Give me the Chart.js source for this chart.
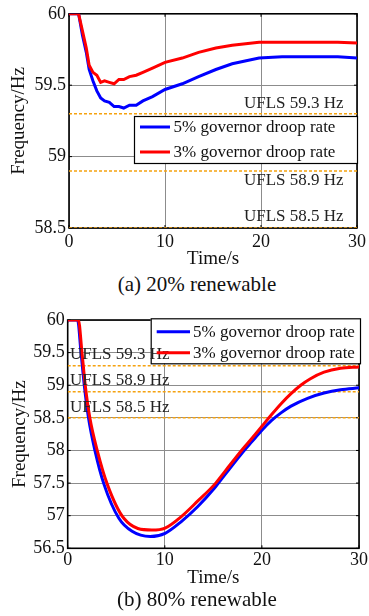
<!DOCTYPE html>
<html>
<head>
<meta charset="utf-8">
<script src="https://cdn.jsdelivr.net/npm/chart.js@4/dist/chart.umd.min.js"></script>
<style>
  html, body { margin: 0; padding: 0; background: #fff; }
  body { width: 369px; height: 616px; position: relative; overflow: hidden; }
  canvas { position: absolute; left: 0; }
  #c1 { top: 0; }
  #c2 { top: 300px; }
  .caption { position: absolute; left: 0; width: 394px; text-align: center;
             font-family: 'Liberation Serif', 'Times New Roman', serif; font-size: 21px;
             line-height: 21px; color: #111; white-space: nowrap; }
</style>
</head>
<body>
<canvas id="c1" width="369" height="270"></canvas>
<canvas id="c2" width="369" height="290"></canvas>
<div class="caption" style="top:274px">(a) 20% renewable</div>
<div class="caption" style="top:589px">(b) 80% renewable</div>
<script>
// ---- (a) 20% renewable ----
const timeA = [0, 1.0, 1.4, 1.8, 2.1, 2.5, 2.9, 3.3, 3.7, 4.2, 4.7, 5.2, 5.7, 6.3, 7.0, 7.7, 8.7, 10, 11.8, 13.5, 15.3, 17, 19.8, 22.2, 25, 28, 30];
const droop5A = [60, 60, 59.85, 59.73, 59.61, 59.53, 59.46, 59.41, 59.39, 59.38, 59.35, 59.35, 59.34, 59.36, 59.36, 59.39, 59.42, 59.47, 59.51, 59.56, 59.61, 59.65, 59.69, 59.70, 59.70, 59.70, 59.69];
const droop3A = [60, 60, 59.88, 59.76, 59.64, 59.59, 59.57, 59.52, 59.53, 59.52, 59.51, 59.54, 59.54, 59.56, 59.57, 59.59, 59.62, 59.66, 59.69, 59.73, 59.76, 59.78, 59.80, 59.80, 59.80, 59.80, 59.795];

// ---- (b) 80% renewable ----
const time5B = [0, 1.02, 1.36, 1.70, 2.14, 2.82, 3.74, 5.27, 6.63, 8.5, 10.03, 11.7, 13.4, 15.1, 16.2, 17.9, 19, 20, 21, 22, 23, 24.7, 26.4, 28.1, 30];
const droop5B = [60, 60, 59.52, 59.01, 58.50, 57.99, 57.48, 56.96, 56.76, 56.68, 56.73, 56.91, 57.14, 57.42, 57.63, 57.95, 58.14, 58.31, 58.46, 58.58, 58.68, 58.80, 58.88, 58.93, 58.96];
const time3B = [0, 1.1, 1.46, 1.8, 2.28, 3.06, 4.08, 5.78, 8.67, 10.03, 11.73, 13.43, 15.13, 16.2, 17.9, 19, 20, 21, 22, 23, 24, 25, 26.4, 28.1, 30];
const droop3B = [60, 60, 59.52, 59.01, 58.50, 57.99, 57.48, 56.96, 56.78, 56.81, 56.99, 57.23, 57.48, 57.68, 58.00, 58.19, 58.37, 58.55, 58.72, 58.87, 59.00, 59.10, 59.20, 59.26, 59.28];

// under-frequency load shedding thresholds (Hz)
const uflsLevels = [59.3, 58.9, 58.5];

const seriesNames = ['5% governor droop rate', '3% governor droop rate'];
const timeTicks = [0, 10, 20, 30];
const freqTicksA = [58.5, 59, 59.5, 60];
const freqTicksB = [56.5, 57, 57.5, 58, 58.5, 59, 59.5, 60];

const FONT = "'Liberation Serif', 'Times New Roman', serif";
const BLUE = '#0000ff', RED = '#ff0000', ORANGE = '#f5a20f';

const pts = (xs, ys) => xs.map((x, i) => ({ x, y: ys[i] }));

// axes box with inward tick marks, drawn beneath the data
const frameBox = {
  id: 'frameBox',
  beforeDatasetsDraw(chart) {
    const { ctx, chartArea: a, scales: { x, y } } = chart;
    ctx.save();
    ctx.strokeStyle = '#000';
    ctx.lineWidth = 1;
    ctx.beginPath();
    x.ticks.forEach(t => {
      const px = x.getPixelForValue(t.value);
      ctx.moveTo(px, a.bottom); ctx.lineTo(px, a.bottom - 3);
      ctx.moveTo(px, a.top); ctx.lineTo(px, a.top + 3);
    });
    y.ticks.forEach(t => {
      const py = y.getPixelForValue(t.value);
      ctx.moveTo(a.left, py); ctx.lineTo(a.left + 3, py);
      ctx.moveTo(a.right, py); ctx.lineTo(a.right - 3, py);
    });
    ctx.stroke();
    ctx.lineWidth = 1.6;
    ctx.strokeRect(a.left, a.top, a.right - a.left, a.bottom - a.top);
    ctx.restore();
  }
};

// boxed legend and threshold labels inside the plot
const overlay = {
  id: 'overlay',
  afterDatasetsDraw(chart, args, o) {
    const { ctx, scales: { y } } = chart;
    ctx.save();
    // legend frame
    ctx.fillStyle = '#fff';
    ctx.fillRect(o.box[0], o.box[1], o.box[2], o.box[3]);
    ctx.strokeStyle = '#000';
    ctx.lineWidth = 1.2;
    ctx.strokeRect(o.box[0] + 0.5, o.box[1] + 0.5, o.box[2], o.box[3]);
    // threshold labels
    ctx.font = '17px ' + FONT;
    ctx.fillStyle = '#222';
    ctx.textAlign = 'left';
    ctx.textBaseline = 'alphabetic';
    uflsLevels.forEach((v, i) => {
      ctx.fillText('UFLS ' + v + ' Hz', o.labelX, y.getPixelForValue(v) + o.labelDy[i]);
    });
    // legend entries
    ctx.textBaseline = 'middle';
    ctx.lineWidth = 3;
    const entries = [{ c: BLUE, t: seriesNames[0] }, { c: RED, t: seriesNames[1] }];
    entries.forEach((e, i) => {
      const ly = o.box[1] + o.rows[i];
      ctx.strokeStyle = e.c;
      ctx.beginPath();
      ctx.moveTo(o.lineX[0], ly); ctx.lineTo(o.lineX[1], ly);
      ctx.stroke();
      ctx.fillStyle = '#111';
      ctx.fillText(e.t, o.textX, ly + 1);
    });
    ctx.restore();
  }
};

function makeChart(id, s) {
  const datasets = [
    { label: seriesNames[1], data: s.red, borderColor: RED, borderWidth: 3, order: 0,
      pointRadius: 0, cubicInterpolationMode: s.smooth ? 'monotone' : 'default', tension: 0 },
    { label: seriesNames[0], data: s.blue, borderColor: BLUE, borderWidth: 3, order: 1,
      pointRadius: 0, cubicInterpolationMode: s.smooth ? 'monotone' : 'default', tension: 0 }
  ];
  uflsLevels.forEach(v => datasets.push({
    label: 'UFLS ' + v, data: [{ x: 0, y: v }, { x: 30, y: v }], borderColor: ORANGE,
    borderWidth: 1.5, borderDash: [3, 2], pointRadius: 0, order: 2
  }));
  return new Chart(document.getElementById(id), {
    type: 'line',
    data: { datasets },
    options: {
      responsive: false,
      animation: false,
      layout: { padding: s.padding },
      plugins: {
        legend: { display: false },
        tooltip: { enabled: false },
        overlay: s.overlay
      },
      scales: {
        x: {
          type: 'linear', min: 0, max: 30,
          afterBuildTicks: sc => { sc.ticks = timeTicks.map(v => ({ value: v })); },
          afterFit: sc => { sc.height = s.xAxisHeight; },
          grid: { color: '#8c8c8c', lineWidth: 1, drawTicks: false },
          border: { display: false },
          ticks: { color: '#111', font: { family: FONT, size: 18 }, padding: s.xTickPad,
                   maxRotation: 0, callback: v => String(v) },
          title: { display: true, text: 'Time/s', color: '#111',
                   font: { family: FONT, size: 19 }, padding: { top: 0, bottom: s.xTitlePad } }
        },
        y: {
          type: 'linear', min: s.yTicks[0], max: s.yTicks[s.yTicks.length - 1],
          afterBuildTicks: sc => { sc.ticks = s.yTicks.map(v => ({ value: v })); },
          afterFit: sc => { sc.width = s.yAxisWidth; },
          grid: { color: '#8c8c8c', lineWidth: 1, drawTicks: false },
          border: { display: false },
          ticks: { color: '#111', font: { family: FONT, size: 18 }, padding: 3,
                   callback: v => String(v) },
          title: { display: true, text: 'Frequency/Hz', color: '#111',
                   font: { family: FONT, size: 19 }, padding: { top: s.yTitlePad, bottom: 0 } }
        }
      }
    },
    plugins: [frameBox, overlay]
  });
}

makeChart('c1', {
  blue: pts(timeA, droop5A), red: pts(timeA, droop3A), smooth: false,
  yTicks: freqTicksA,
  padding: { left: 0, top: 7.3, right: 10.7, bottom: 0 },
  yAxisWidth: 69, xAxisHeight: 42, xTickPad: 3, xTitlePad: 0, yTitlePad: 7.5,
  overlay: {
    box: [134, 116, 223, 47], rows: [11, 36], lineX: [140, 170], textX: 173.5,
    labelX: 244, labelDy: [-6, 13.7, -6.6]
  }
});

makeChart('c2', {
  blue: pts(time5B, droop5B), red: pts(time3B, droop3B), smooth: true,
  yTicks: freqTicksB,
  padding: { left: 0, top: 20, right: 7.3, bottom: 0 },
  yAxisWidth: 67.7, xAxisHeight: 41.7, xTickPad: 1, xTitlePad: 1, yTitlePad: 8.5,
  overlay: {
    box: [150.7, 18.3, 209.3, 45], rows: [13.4, 34.4], lineX: [156.7, 190], textX: 193,
    labelX: 70, labelDy: [-7, -6.7, -6.3]
  }
});
</script>
</body>
</html>
